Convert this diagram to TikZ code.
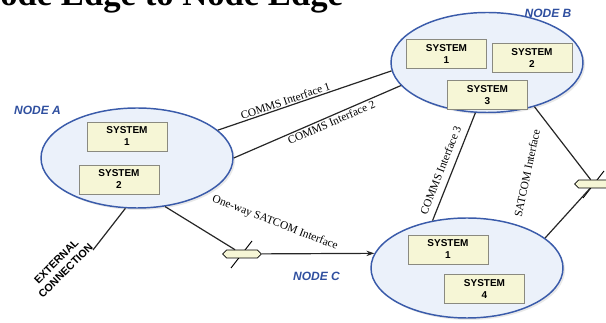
\documentclass[tikz,border=0pt]{standalone}
\usepackage{fontspec}
\setmainfont{Liberation Serif}
\setsansfont{Liberation Sans}
\usetikzlibrary{shapes.geometric,shapes.symbols,arrows.meta,shadows}
\definecolor{sitefill}{HTML}{EBF1FA}
\definecolor{siteline}{HTML}{3A5BAA}
\definecolor{sitetext}{HTML}{2F4F9F}
\definecolor{sysfill}{HTML}{F6F6D6}
\definecolor{sysline}{HTML}{8A8A80}

\begin{document}
\begin{tikzpicture}[x=0.75pt, y=-0.75pt,
  site/.style={ellipse, draw=siteline, line width=1.1pt, fill=sitefill, minimum width=144pt, minimum height=75pt, inner sep=0pt, drop shadow={opacity=0.18, shadow xshift=1.5pt, shadow yshift=-1.5pt}},
  sitename/.style={font=\sffamily\bfseries\itshape\fontsize{9}{10}\selectfont, text=sitetext, inner sep=0pt},
  sysbox/.style={draw=sysline, fill=sysfill, minimum width=60pt, minimum height=22pt, align=center, inner sep=1pt, font=\sffamily\bfseries\fontsize{7.5}{9}\selectfont},
  link/.style={line width=0.9pt, draw=black!85},
  linklabel/.style={font=\fontsize{8.5}{9}\selectfont, inner sep=1pt},
  extlabel/.style={font=\sffamily\bfseries\fontsize{8}{10}\selectfont, align=center, inner sep=0pt},
  sat/.style={signal, signal to=east and west, draw, fill=sysfill, minimum width=29pt, minimum height=6pt, inner sep=0pt, line width=0.6pt}]
\useasboundingbox (0,0) rectangle (606,323);
\node[anchor=base west, inner sep=0pt, font=\bfseries\fontsize{26}{28}\selectfont] (title) at (-25,5.5) {Node Edge to Node Edge};

\node[site] (nodeA) at (137,158) {};
\node[site] (nodeB) at (487,62.5) {};
\node[site] (nodeC) at (467,268) {};
\node[sitename] (labA) at (37.5,110.5) {NODE A};
\node[sitename] (labB) at (548,13) {NODE B};
\node[sitename] (labC) at (316.5,276) {NODE C};

\node[sysbox] (a1) at (127,136.5) {SYSTEM\\1};
\node[sysbox] (a2) at (119,179.5) {SYSTEM\\2};
\node[sysbox] (b1) at (446.5,54) {SYSTEM\\1};
\node[sysbox] (b2) at (532,58) {SYSTEM\\2};
\node[sysbox] (b3) at (487.5,95) {SYSTEM\\3};
\node[sysbox] (c1) at (448,249.5) {SYSTEM\\1};
\node[sysbox] (c4) at (484.5,289) {SYSTEM\\4};

\coordinate (s1) at (242,254);
\coordinate (s2) at (594,184);
\draw[line width=0.7pt] (s1) ++(-11,14) -- ++(21,-27);
\draw[line width=0.7pt] (s2) ++(-11,14) -- ++(21,-27);
\node[sat] (sat1) at (s1) {};
\node[sat] (sat2) at (s2) {};
\coordinate (ext) at (93,250);

\draw[link] (nodeA.19) -- node[linklabel, sloped, above, pos=0.4] {COMMS Interface 1} (nodeB.185);
\draw[link] (nodeA.0) -- node[linklabel, sloped, below, pos=0.57] {COMMS Interface 2} (nodeB.195);
\draw[link] (nodeB.257) -- node[linklabel, sloped, above=4pt, pos=0.57] {COMMS Interface 3} (nodeC.126);
\draw[link] (nodeB.-43) -- (sat2);
\draw[link] (sat2) -- (nodeC.21);
\draw[link] (nodeA.-60) -- (sat1);
\draw[link, -{Stealth[length=6pt, width=4pt]}] (sat1) -- (nodeC.171);
\draw[link] (nodeA.-103) -- (ext);
\node[linklabel, rotate=-21] (oneway) at (275,223) {One-way SATCOM Interface};
\node[linklabel, rotate=78] (satlab) at (527,173) {SATCOM Interface};
\node[extlabel, rotate=45] (extlab) at (61,266) {EXTERNAL\\CONNECTION};
\end{tikzpicture}
\end{document}
